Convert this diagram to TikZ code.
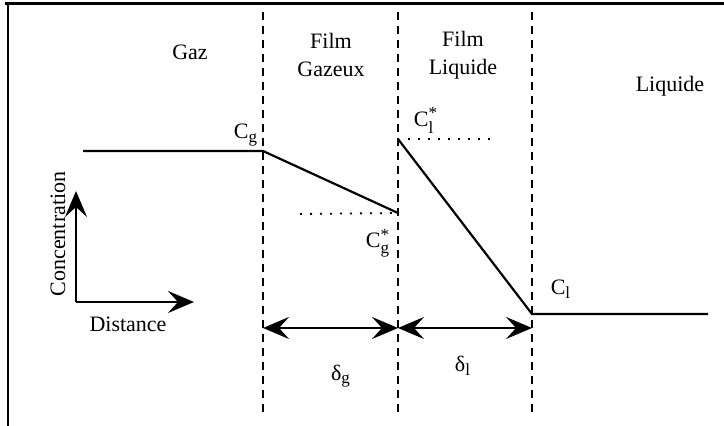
\documentclass[tikz,border=0pt]{standalone}
\usepackage{fontspec}
\setmainfont{Liberation Serif}
\usetikzlibrary{arrows.meta}
\newcommand{\smtxt}[1]{\mbox{\fontsize{8.5}{9}\selectfont #1}}
\tikzset{
  lbl/.style={inner sep=0pt, font=\fontsize{11}{13}\selectfont},
  prof/.style={line width=1.1pt},
  sep/.style={line width=1pt, dash pattern=on 4pt off 3pt},
  guide/.style={line width=0.9pt, dash pattern=on 1pt off 4pt},
  big/.style={line width=1.1pt, -{Stealth[length=13pt,width=11pt,inset=5pt]}},
  dbl/.style={line width=1.1pt, {Stealth[length=13pt,width=11pt,inset=5pt]}-{Stealth[length=13pt,width=11pt,inset=5pt]}}
}
\begin{document}
\begin{tikzpicture}[x=0.5pt,y=-0.5pt]
\useasboundingbox (0,0) rectangle (724,426);
% frame
\draw[line width=1.5pt] (5,4) -- (724,4);
\draw[line width=1pt] (8,4) -- (8,426);
% separators
\coordinate (s1t) at (263,12); \coordinate (s1b) at (263,414);
\coordinate (s2t) at (398,12); \coordinate (s2b) at (398,414);
\coordinate (s3t) at (532,12); \coordinate (s3b) at (532,414);
\draw[sep] (s1t) -- (s1b);
\draw[sep] (s2t) -- (s2b);
\draw[sep] (s3t) -- (s3b);
% region labels
\node[lbl] (gaz) at (190,52) {Gaz};
\node[lbl, align=center] (fg) at (331,55) {Film\\[1pt]Gazeux};
\node[lbl, align=center] (fl) at (463,55) {Film\\[1pt]Liquide};
\node[lbl] (liq) at (670,86) {Liquide};
% profile
\coordinate (a) at (83,151);
\coordinate (b) at (263,151);
\coordinate (c) at (398,213);
\coordinate (d) at (398,139);
\coordinate (e) at (532,314);
\coordinate (f) at (708,314);
\draw[prof] (a) -- (b) -- (c);
\draw[prof] (d) -- (e) -- (f);
% guides
\coordinate (g1) at (300,214);
\coordinate (g2) at (496,139);
\draw[guide] (g1) -- (c);
\draw[guide] (d) ++(10,0) -- (g2);
% concentration labels
\node[lbl] (cg) at (246,135) {C$_{\smtxt{g}}$};
\node[lbl] (cgs) at (378,243) {C$^{\smtxt{*}}_{\smtxt{g}}$};
\node[lbl] (cls) at (426,120) {C$^{\smtxt{*}}_{\smtxt{l}}$};
\node[lbl] (cl) at (561,289) {C$_{\smtxt{l}}$};
% film thickness arrows
\coordinate (p1) at (263,328);
\coordinate (p2) at (398,328);
\coordinate (p3) at (532,328);
\draw[dbl] (p1) -- (p2);
\draw[dbl] (p2) -- (p3);
\node[lbl] (dg) at (341,376) {δ$_{\smtxt{g}}$};
\node[lbl] (dl) at (463,366) {δ$_{\smtxt{l}}$};
% axes
\coordinate (o) at (76,302);
\coordinate (ay) at (76,191);
\coordinate (ax) at (194,302);
\draw[big] (o) -- (ay);
\draw[big] (o) -- (ax);
\node[lbl, rotate=90] (conc) at (58,234) {Concentration};
\node[lbl] (dist) at (128,324) {Distance};
\end{tikzpicture}
\end{document}
